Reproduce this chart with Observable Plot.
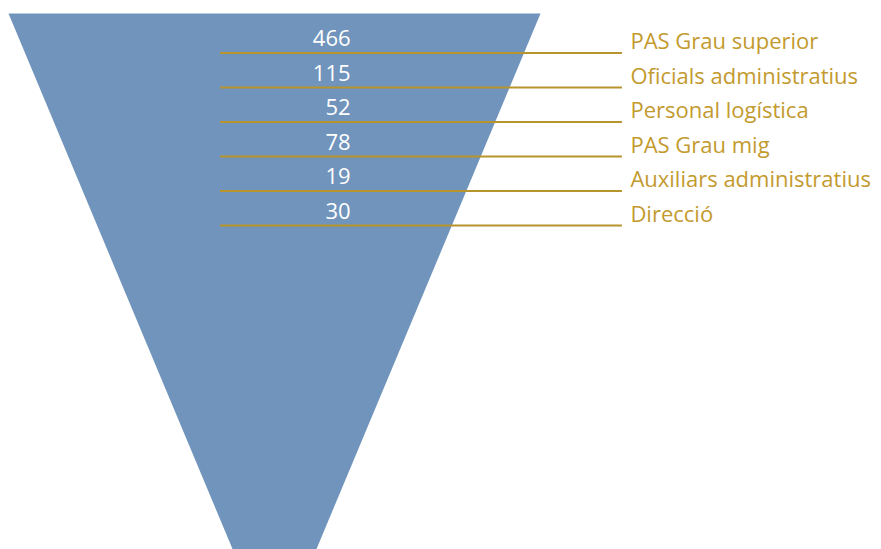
<!DOCTYPE html>
<html>
<head>
<meta charset="utf-8">
<script src="https://cdn.jsdelivr.net/npm/d3@7"></script>
<script src="https://cdn.jsdelivr.net/npm/@observablehq/plot@0.6"></script>
<style>
  html, body { margin: 0; padding: 0; background: #fff; overflow: hidden; }
</style>
</head>
<body>
<div id="chart"></div>
<script>
// Categories (top to bottom) and their values
const categories = [
  "PAS Grau superior",
  "Oficials administratius",
  "Personal logística",
  "PAS Grau mig",
  "Auxiliars administratius",
  "Direcció"
];
const values = [466, 115, 52, 78, 19, 30];

// Funnel geometry in chart units (x: half-width of funnel top = 1, y: rank)
const funnelTopRank = -1.127;
const funnelApexRank = 17.3;
const valueAnchorX = 0.284;
const leaderStartX = -0.205;
const leaderEndX = 1.306;
const labelX = 1.336;

const rows = categories.map((c, i) => ({category: c, value: values[i], rank: i}));
const funnel = [
  {rank: funnelTopRank, left: -1, right: 1},
  {rank: funnelApexRank, left: 0, right: 0}
];

const blue = "#7094bb";
const gold = "#c39a2e";
const goldLine = "#b8942c";

const chart = Plot.plot({
  width: 881,
  height: 549,
  margin: 0,
  x: {domain: [-1.032, 2.280], range: [0, 881], axis: null},
  y: {domain: [0, 5], range: [52.5, 225], axis: null},
  style: {fontFamily: "'Open Sans', Lato, sans-serif", background: "#fff"},
  marks: [
    Plot.areaX(funnel, {y: "rank", x1: "left", x2: "right", fill: blue, clip: true}),
    Plot.ruleY(rows, {y: "rank", x1: leaderStartX, x2: leaderEndX, stroke: goldLine, strokeWidth: 2}),
    Plot.text(rows, {x: valueAnchorX, y: "rank", dy: -14, text: d => String(d.value), textAnchor: "end", fill: "white", fontSize: 22}),
    Plot.text(rows, {x: labelX, y: "rank", dy: -11, text: "category", textAnchor: "start", fill: gold, fontSize: 22})
  ]
});
document.getElementById("chart").appendChild(chart);
</script>
</body>
</html>
